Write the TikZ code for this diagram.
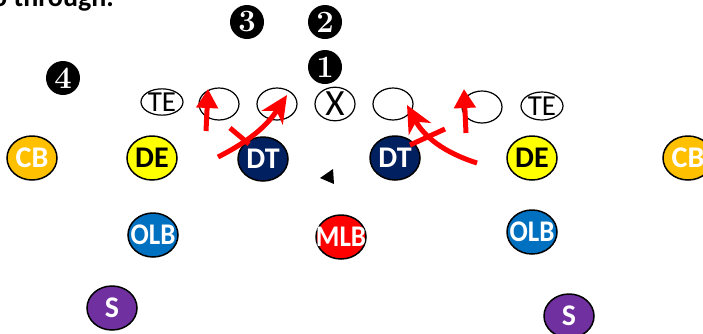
\documentclass[tikz,border=0pt]{standalone}
\usepackage{fontspec}
\setsansfont{Carlito}
\usetikzlibrary{shapes.geometric,arrows.meta}
\definecolor{cbgold}{HTML}{FFC000}
\definecolor{deyel}{HTML}{FFFF00}
\definecolor{dtnavy}{HTML}{002060}
\definecolor{olbblue}{HTML}{0070C0}
\definecolor{mlbred}{HTML}{FF0000}
\definecolor{spurple}{HTML}{7030A0}
\begin{document}
\begin{tikzpicture}[x=1pt,y=-1pt,
  defn/.style={ellipse,draw=black,line width=1.5pt,minimum width=50pt,minimum height=44pt,inner sep=0pt,
    font=\sffamily\bfseries\fontsize{30}{30}\selectfont,text=white},
  offn/.style={ellipse,draw=black,line width=1.2pt,fill=white,minimum width=40pt,minimum height=32pt,inner sep=0pt,
    font=\sffamily\fontsize{29}{29}\selectfont},
  numn/.style={circle,fill=black,minimum size=34pt,inner sep=0pt,text=white,
    font=\rmfamily\bfseries\fontsize{31}{31}\selectfont},
  play/.style={draw=red,line width=5pt},
  shorttip/.style={-{Triangle[length=19pt,width=21pt]}},
  longtip/.style={-{Stealth[length=27pt,width=25pt,inset=8pt]}}]
\useasboundingbox (0,0) rectangle (703,333);
\clip (0,0) rectangle (703,333);

% cut-off heading
\node[anchor=base west,inner sep=0pt,font=\sffamily\bfseries\fontsize{28}{28}\selectfont] (hdr) at (-8,6) {o through.};

% numbers
\node[numn] (n3) at (247,22) {3};
\node[numn] (n2) at (325,22) {2};
\node[numn] (n1) at (325,67) {1};
\node[numn] (n4) at (63,78) {4};

% offense
\node[offn,minimum width=42pt,minimum height=26pt] (teL) at (162,102) {\makebox[0pt]{TE}};
\node[offn] (oL2) at (219,104) {};
\node[offn] (oL1) at (277,104) {};
\node[offn] (ctr) at (335,104) {\makebox[0pt]{\fontsize{37}{37}\selectfont X}};
\node[offn] (oR1) at (393,104) {};
\node[offn] (oR2) at (482,107) {};
\node[offn,minimum width=42pt,minimum height=28pt] (teR) at (542,106) {\makebox[0pt]{TE}};

% defense
\node[defn,fill=cbgold] (cbL) at (32,158) {\makebox[0pt]{CB}};
\node[defn,fill=deyel,text=black] (deL) at (152,158) {\makebox[0pt]{DE}};
\node[defn,fill=dtnavy] (dtL) at (263,159) {\makebox[0pt]{DT}};
\node[defn,fill=dtnavy] (dtR) at (395,158) {\makebox[0pt]{DT}};
\node[defn,fill=deyel,text=black] (deR) at (532,158) {\makebox[0pt]{DE}};
\node[defn,fill=cbgold] (cbR) at (688,158) {\makebox[0pt]{CB}};
\node[defn,fill=olbblue] (olbL) at (153,235) {\makebox[0pt]{\scalebox{0.9}[1]{OLB}}};
\node[defn,fill=mlbred] (mlb) at (341,237) {\makebox[0pt]{\scalebox{0.9}[1]{MLB}}};
\node[defn,fill=olbblue] (olbR) at (532,232) {\makebox[0pt]{\scalebox{0.9}[1]{OLB}}};
\node[defn,fill=spurple] (sL) at (112,308) {\makebox[0pt]{S}};
\node[defn,fill=spurple] (sR) at (569,316) {\makebox[0pt]{S}};

% ball marker
\fill[black] (320,178) -- (333,169) -- (334,184) -- cycle;

% red blocking paths
\coordinate (aS) at (206,131);
\coordinate (aE) at (208,89);
\coordinate (bS) at (218,157);
\coordinate (bE) at (287,95);
\coordinate (cS) at (230,128);
\coordinate (cE) at (249,144);
\coordinate (dS) at (477,163);
\coordinate (dE) at (407,105);
\coordinate (eS) at (410,145);
\coordinate (eE) at (445,129);
\coordinate (fS) at (466,133);
\coordinate (fE) at (464,89);

\draw[play,shorttip] (aS) -- (aE);
\draw[play,longtip] (bS) to[bend right=15] (bE);
\draw[play] (cS) -- (cE);
\draw[play,longtip] (dS) to[bend left=22] (dE);
\draw[play] (eS) -- (eE);
\draw[play,shorttip] (fS) -- (fE);
\end{tikzpicture}
\end{document}
